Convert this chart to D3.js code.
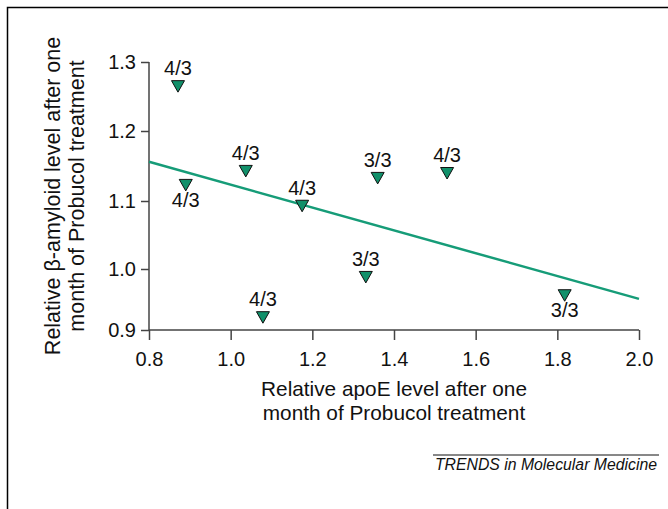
<!DOCTYPE html>
<html><head><meta charset="utf-8">
<script src="https://cdn.jsdelivr.net/npm/d3@7"></script>
<style>body{margin:0;background:#fff}svg{display:block}text{font-family:"Liberation Sans",Arial,sans-serif}</style>
</head><body>
<svg id="c" width="668" height="509"></svg>
<script>
const apoE   = [0.871, 0.890, 1.037, 1.175, 1.360, 1.530, 1.079, 1.331, 1.818];
const amyloid= [1.265, 1.123, 1.143, 1.093, 1.133, 1.140, 0.921, 0.987, 0.957];
const genotype=["4/3","4/3","4/3","4/3","3/3","4/3","4/3","3/3","3/3"];
const labelPos=["above","below","above","above","above","above","above","above","below"];
const fitX = [0.8, 2.0];
const fitY = [1.156, 0.951];
const xTicks = [0.8, 1.0, 1.2, 1.4, 1.6, 1.8, 2.0];
const yTicks = [0.9, 1.0, 1.1, 1.2, 1.3];

const FS = 20;
const svg = d3.select("#c");
svg.append("path").attr("d","M7.5,509 V7.5 H668").attr("fill","none").attr("stroke","#000").attr("stroke-width",1.5);

const x = d3.scaleLinear().domain([0.8,2.0]).range([149,639]);
const y = d3.scaleLinear().domain([0.9,1.0,1.1,1.2,1.3]).range([330,269,201,131,62]);

const ax = svg.append("g").attr("transform","translate(0,330)")
  .call(d3.axisBottom(x).tickValues(xTicks).tickFormat(d3.format(".1f")).tickSize(10).tickSizeOuter(0).tickPadding(12));
const ay = svg.append("g").attr("transform","translate(149,0)")
  .call(d3.axisLeft(y).tickValues(yTicks).tickFormat(d3.format(".1f")).tickSize(8).tickSizeOuter(0).tickPadding(5));
[ax,ay].forEach(a=>{
  a.attr("font-size",FS).attr("font-family","Liberation Sans, Arial, sans-serif");
  a.selectAll("path,line").attr("stroke","#444").attr("stroke-width",1.5);
  a.selectAll("text").attr("fill","#111");
});
ay.select(".domain").attr("d","M0,330V62");
ax.select(".domain").attr("d","M149,0H639");

svg.append("line").attr("x1",x(fitX[0])).attr("y1",y(fitY[0])).attr("x2",x(fitX[1])).attr("y2",y(fitY[1]))
  .attr("stroke","#169c78").attr("stroke-width",2.5);

const tri = "M-6.5,-5.5 L6.5,-5.5 L0,6 Z";
const pts = svg.append("g");
apoE.forEach((v,i)=>{
  const cx=x(v), cy=y(amyloid[i]);
  pts.append("path").attr("d",tri).attr("transform",`translate(${cx},${cy})`)
    .attr("fill","#11906a").attr("stroke","#111").attr("stroke-width",1);
  pts.append("text").attr("x",cx).attr("y", labelPos[i]==="above"? cy-11 : cy+22)
    .attr("text-anchor","middle").attr("font-size",FS).attr("fill","#111").text(genotype[i]);
});

const TS = 20.8;
svg.append("text").attr("x",394).attr("y",396).attr("text-anchor","middle").attr("font-size",TS).attr("fill","#111").text("Relative apoE level after one");
svg.append("text").attr("x",394).attr("y",420).attr("text-anchor","middle").attr("font-size",TS).attr("fill","#111").text("month of Probucol treatment");
svg.append("text").attr("transform","translate(60,196) rotate(-90)").attr("text-anchor","middle").attr("font-size",21.5).attr("fill","#111").text("Relative β-amyloid level after one");
svg.append("text").attr("transform","translate(84,196) rotate(-90)").attr("text-anchor","middle").attr("font-size",21.5).attr("fill","#111").text("month of Probucol treatment");

svg.append("line").attr("x1",433).attr("x2",659).attr("y1",455).attr("y2",455).attr("stroke","#111").attr("stroke-width",1);
svg.append("text").attr("x",657).attr("y",470).attr("text-anchor","end").attr("font-size",15.8).attr("font-style","italic").attr("fill","#111").text("TRENDS in Molecular Medicine");
</script>
</body></html>
